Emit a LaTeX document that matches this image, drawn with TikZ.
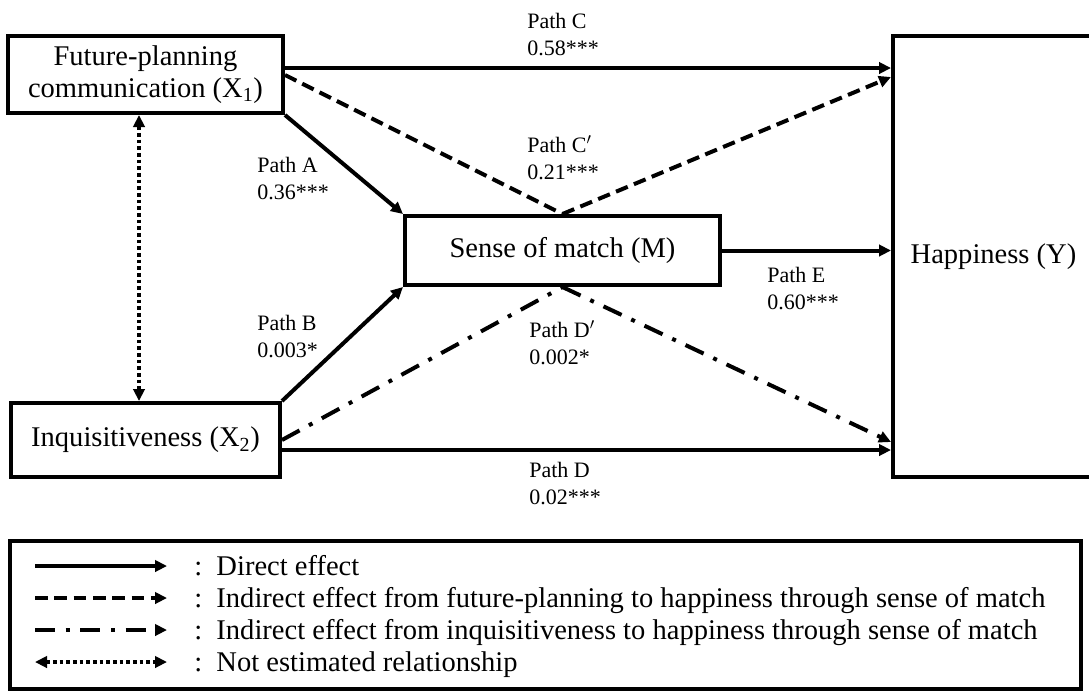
\documentclass[tikz,border=0pt]{standalone}
\usepackage{fontspec}
\setmainfont{Liberation Serif}
\usetikzlibrary{arrows.meta,calc}

\tikzset{
  varbox/.style={draw, line width=3pt, inner sep=0pt, align=center,
    font=\fontsize{21.4pt}{24.5pt}\selectfont},
  pathlabel/.style={anchor=north west, align=left, inner sep=0pt,
    font=\fontsize{16.5pt}{20.25pt}\selectfont},
  keytext/.style={anchor=base west, inner sep=0pt,
    font=\fontsize{21.4pt}{24pt}\selectfont},
  effect/.style={line width=3pt, -{Triangle[length=9pt,width=8.5pt]}},
  indirectA/.style={dash pattern=on 9.5pt off 5pt, line width=3pt},
  indirectB/.style={dash pattern=on 15pt off 8pt on 3pt off 8pt, line width=3pt},
  notest/.style={line width=3pt, dash pattern=on 2.8pt off 2.2pt,
    {Triangle[length=9pt,width=8.5pt]}-{Triangle[length=9pt,width=8.5pt]}},
}

\begin{document}
\begin{tikzpicture}[x=0.75pt,y=-0.75pt]
\useasboundingbox (0,0) rectangle (1089,694);
\clip (0,0) rectangle (1089,694);

% variables
\node[varbox, minimum width=206.25pt, minimum height=57.75pt] (X1) at (145.5,74.5)
  {Future-planning\\communication (X\textsubscript{1})};
\node[varbox, minimum width=201.75pt, minimum height=55.5pt] (X2) at (145.5,440)
  {Inquisitiveness (X\textsubscript{2})};
\node[varbox, minimum width=236.25pt, minimum height=51.75pt] (M) at (562.5,250.5)
  {Sense of match (M)};
\node[varbox, minimum width=150.75pt, minimum height=330.75pt] (Y) at (993.5,256.5)
  {Happiness (Y)};

% paths
\coordinate (c1) at ($(X1.east)+(0,-6.5)$);
\coordinate (d1) at ($(X2.east)+(0,10)$);
\coordinate (n1) at ($(X1.south west)+(133,0)$);
\draw[effect] (c1) -- (c1 -| Y.west);
\draw[indirectA] ($(X1.east)+(0,0.5)$) -- (M.north);
\draw[effect, indirectA] (M.north) -- ($(Y.north west)+(0,43)$);
\draw[effect] (X1.south east) -- (M.north west);
\draw[effect] (X2.north east) -- (M.south west);
\draw[indirectB] (X2.east) -- (M.south);
\draw[effect, indirectB] (M.south) -- ($(Y.south west)+(0,-37)$);
\draw[effect] (d1) -- (d1 -| Y.west);
\draw[effect] (M.east) -- (M.east -| Y.west);
\draw[notest] (n1) -- (n1 |- X2.north);

% coefficients
\node[pathlabel] (labA) at (257,157) {Path A\\0.36***};
\node[pathlabel] (labB) at (257,315) {Path B\\0.003*};
\node[pathlabel] (labC) at (527,13) {Path C\\0.58***};
\node[pathlabel] (labCp) at (527,137) {Path C\smash{$'$}\\0.21***};
\node[pathlabel] (labDp) at (529,322) {Path D\smash{$'$}\\0.002*};
\node[pathlabel] (labD) at (529,462) {Path D\\0.02***};
\node[pathlabel] (labE) at (767,267) {Path E\\0.60***};

% legend
\draw[line width=2.5pt] (10,541) rectangle (1081,689);
\coordinate (k1a) at (35,566);
\coordinate (k1b) at (167,566);
\coordinate (k2a) at (35,598);
\coordinate (k2b) at (167,598);
\coordinate (k3a) at (35,630);
\coordinate (k3b) at (167,630);
\coordinate (k4a) at (35,662);
\coordinate (k4b) at (167,662);
\draw[effect] (k1a) -- (k1b);
\draw[effect, indirectA] (k2a) -- (k2b);
\draw[effect, indirectB] (k3a) -- (k3b);
\draw[notest] (k4a) -- (k4b);
\node[keytext] (k1) at (194,575) {:\enspace Direct effect};
\node[keytext] (k2) at (194,607) {:\enspace Indirect effect from future-planning to happiness through sense of match};
\node[keytext] (k3) at (194,639) {:\enspace Indirect effect from inquisitiveness to happiness through sense of match};
\node[keytext] (k4) at (194,671) {:\enspace Not estimated relationship};
\end{tikzpicture}
\end{document}
